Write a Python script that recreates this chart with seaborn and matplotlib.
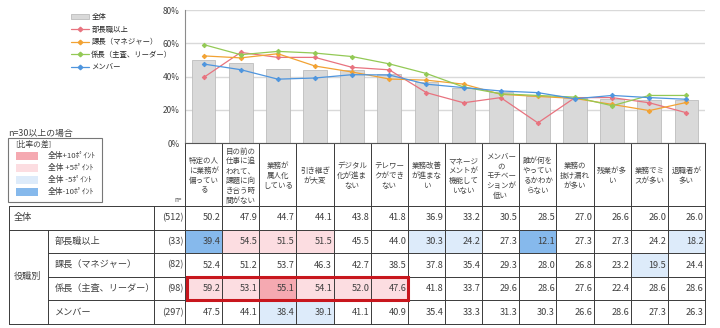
import numpy as np
import pandas as pd
import matplotlib
matplotlib.use("Agg")
import matplotlib.pyplot as plt
import seaborn as sns
from matplotlib.patches import Rectangle, Patch
from matplotlib.lines import Line2D

# ---------------- data ----------------
header_labels = [
    "特定の人\nに業務が\n偏ってい\nる",
    "目の前の\n仕事に追\nわれて、\n課題に向\nき合う時\n間がない",
    "業務が\n属人化\nしている",
    "引き継ぎ\nが大変",
    "デジタル\n化が進ま\nない",
    "テレワー\nクができ\nない",
    "業務改善\nが進まな\nい",
    "マネージ\nメントが\n機能して\nいない",
    "メンバー\nの\nモチベー\nションが\n低い",
    "誰が何を\nやってい\nるかわか\nらない",
    "業務の\n抜け漏れ\nが多い",
    "残業が多\nい",
    "業務でミ\nスが多い",
    "退職者が\n多い",
]
categories = [s.replace("\n", "") for s in header_labels]

overall = [50.2, 47.9, 44.7, 44.1, 43.8, 41.8, 36.9, 33.2, 30.5, 28.5, 27.0, 26.6, 26.0, 26.0]
bucho = [39.4, 54.5, 51.5, 51.5, 45.5, 44.0, 30.3, 24.2, 27.3, 12.1, 27.3, 27.3, 24.2, 18.2]
kacho = [52.4, 51.2, 53.7, 46.3, 42.7, 38.5, 37.8, 35.4, 29.3, 28.0, 26.8, 23.2, 19.5, 24.4]
kakaricho = [59.2, 53.1, 55.1, 54.1, 52.0, 47.6, 41.8, 33.7, 29.6, 28.6, 27.6, 22.4, 28.6, 28.6]
member = [47.5, 44.1, 38.4, 39.1, 41.1, 40.9, 35.4, 33.3, 31.3, 30.3, 26.6, 28.6, 27.3, 26.3]

overall_label = "全体"
groups = ["部長職以上", "課長（マネジャー）", "係長（主査、リーダー）", "メンバー"]
group_values = [bucho, kacho, kakaricho, member]
n_overall = 512
n_groups = [33, 82, 98, 297]

# highlight codes: 2 = +10pt, 1 = +5pt, -1 = -5pt, -2 = -10pt, 0 = none
hl_bucho = [-2, 1, 1, 1, 0, 0, -1, -1, 0, -2, 0, 0, 0, -1]
hl_kacho = [0, 0, 0, 0, 0, 0, 0, 0, 0, 0, 0, 0, -1, 0]
hl_kakaricho = [1, 1, 2, 1, 1, 1, 0, 0, 0, 0, 0, 0, 0, 0]
hl_member = [0, 0, -1, -1, 0, 0, 0, 0, 0, 0, 0, 0, 0, 0]
hl_rows = [hl_bucho, hl_kacho, hl_kakaricho, hl_member]

legend_title = "[比率の差]"
legend_items = ["全体+10ﾎﾟｲﾝﾄ", "全体 +5ﾎﾟｲﾝﾄ", "全体 -5ﾎﾟｲﾝﾄ", "全体-10ﾎﾟｲﾝﾄ"]
legend_codes = [2, 1, -1, -2]
note = "n=30以上の場合"
group_header = "役職別"

# ---------------- style ----------------
sns.set_theme(style="white")
plt.rcParams["font.family"] = ["Noto Sans CJK JP", "DejaVu Sans"]

line_colors = ["#E8737F", "#F2A233", "#93C955", "#4E95DE"]
fill_colors = {2: "#F5A9B1", 1: "#FCDDE1", -1: "#DDEBFA", -2: "#86B9EC"}
txt_col = "#404040"
grid_col = "#3A3A3A"

W, H = 720, 328
fig = plt.figure(figsize=(W / 100, H / 100), dpi=100)

x0, x1 = 185, 705
cw = (x1 - x0) / len(categories)
plot_top, plot_bot = 10, 143

# table / annotation layer in pixel coordinates
tax = fig.add_axes([0, 0, 1, 1])
tax.set_xlim(0, W)
tax.set_ylim(H, 0)
tax.axis("off")

ax = fig.add_axes([x0 / W, (H - plot_bot) / H, (x1 - x0) / W, (plot_bot - plot_top) / H])
ax.patch.set_alpha(0)

# bars (overall)
sns.barplot(x=categories, y=overall, order=categories, color="#D9D9D9",
            edgecolor="#BDBDBD", linewidth=0.6, width=0.64, ax=ax, zorder=2)

# lines (groups)
long_df = pd.DataFrame({
    "cat": np.tile(categories, len(groups)),
    "val": np.concatenate(group_values),
    "group": np.repeat(groups, len(categories)),
})
sns.pointplot(data=long_df, x="cat", y="val", hue="group", order=categories,
              hue_order=groups, palette=line_colors, markers="D",
              markersize=2.3, linewidth=0.9, errorbar=None, ax=ax, zorder=3)
if ax.get_legend() is not None:
    ax.get_legend().remove()

ax.set_xlim(-0.5, len(categories) - 0.5)
ax.set_ylim(0, 80)
ax.set_yticks([0, 20, 40, 60, 80])
ax.set_yticklabels([f"{v}%" for v in [0, 20, 40, 60, 80]], fontsize=6.0, color=txt_col)
ax.set_xticks([])
ax.set_xlabel("")
ax.set_ylabel("")
ax.tick_params(axis="y", length=0, pad=4)
ax.grid(axis="y", color="#D9D9D9", linewidth=1.0, zorder=0)
ax.set_axisbelow(True)
for s in ["top", "right"]:
    ax.spines[s].set_visible(False)
ax.spines["left"].set_color("#8C8C8C")
ax.spines["left"].set_linewidth(0.8)
ax.spines["bottom"].set_color("#555555")
ax.spines["bottom"].set_linewidth(0.8)

# series legend
handles = [Patch(facecolor="#D9D9D9", edgecolor="#BDBDBD", linewidth=0.6)]
handles += [Line2D([0], [0], color=c, lw=0.9, marker="D", markersize=2.3) for c in line_colors]
fig.legend(handles, [overall_label] + groups, loc="upper left",
           bbox_to_anchor=(71 / W, 1 - 13 / H), frameon=False, fontsize=5.3,
           handlelength=2.4, handleheight=0.7, labelspacing=0.62, handletextpad=0.35,
           borderpad=0, borderaxespad=0)

# ---------------- table ----------------
hdr_top, hdr_bot = 143, 206
row_top = 206
row_bot = 324
nrows = 5
rh = (row_bot - row_top) / nrows
tl, c_grp, c_lab, c_n = 9, 48, 154, x0

# header vertical lines and text
for i in range(len(categories) + 1):
    tax.plot([x0 + i * cw] * 2, [hdr_top, row_bot], color=grid_col, lw=0.7)
for i, lab in enumerate(header_labels):
    tax.text(x0 + (i + 0.5) * cw, (hdr_top + 3 + hdr_bot) / 2, lab, ha="center",
             va="center", fontsize=5.4, color=txt_col, linespacing=1.3)
tax.text(c_n - 3, hdr_bot - 2, "n=", ha="right", va="bottom", fontsize=4.5, color=txt_col)

# cell fills
for r, hl in enumerate(hl_rows):
    yt = row_top + (r + 1) * rh
    for i, code in enumerate(hl):
        if code != 0:
            tax.add_patch(Rectangle((x0 + i * cw, yt), cw, rh, facecolor=fill_colors[code],
                                    edgecolor="none", zorder=0))

# horizontal lines
tax.plot([tl, x1], [row_top, row_top], color=grid_col, lw=0.7)
tax.plot([tl, x1], [row_top + rh, row_top + rh], color=grid_col, lw=0.7)
for r in range(2, nrows):
    tax.plot([c_grp, x1], [row_top + r * rh] * 2, color=grid_col, lw=0.7)
tax.plot([tl, x1], [row_bot, row_bot], color=grid_col, lw=0.7)
# vertical lines in left part
tax.plot([tl, tl], [row_top, row_bot], color=grid_col, lw=0.7)
tax.plot([c_grp, c_grp], [row_top + rh, row_bot], color=grid_col, lw=0.7)
tax.plot([c_lab, c_lab], [row_top, row_bot], color=grid_col, lw=0.7)

# row texts
fs = 6.6
all_rows = [overall] + group_values
all_n = [n_overall] + n_groups
tax.text(tl + 5, row_top + rh / 2, overall_label, ha="left", va="center", fontsize=fs, color=txt_col)
tax.text(tl + 5, row_top + rh + 2 * rh, group_header, ha="left", va="center", fontsize=fs, color=txt_col)
for r, g in enumerate(groups):
    tax.text(c_grp + 7, row_top + (r + 1.5) * rh, g, ha="left", va="center",
             fontsize=fs, color=txt_col)
for r, (vals, n) in enumerate(zip(all_rows, all_n)):
    yc = row_top + (r + 0.5) * rh
    tax.text(c_n - 1.5, yc, f"({n})", ha="right", va="center", fontsize=fs, color=txt_col)
    for i, v in enumerate(vals):
        tax.text(x0 + (i + 1) * cw - 1.5, yc, f"{v:.1f}", ha="right", va="center",
                 fontsize=fs, color=txt_col)

# red emphasis box
tax.add_patch(Rectangle((x0 + 1.5, row_top + 3 * rh + 0.5), 6 * cw - 1, rh - 1,
                        facecolor="none", edgecolor="#C8161D", lw=2.2, zorder=5))

# colour legend box
tax.text(8, 133, note, ha="left", va="center", fontsize=6.4, color=txt_col)
tax.add_patch(Rectangle((8, 138), 94, 64, facecolor="white", edgecolor="#777777", lw=0.8))
tax.text(15, 145, legend_title, ha="left", va="center", fontsize=5.6, color=txt_col)
for k, (lab, code) in enumerate(zip(legend_items, legend_codes)):
    yc = 156 + k * 12
    tax.add_patch(Rectangle((16, yc - 4), 22, 8, facecolor=fill_colors[code], edgecolor="none"))
    tax.text(48, yc, lab, ha="left", va="center", fontsize=5.6, color=txt_col)

fig.savefig("out.png", dpi=100)
